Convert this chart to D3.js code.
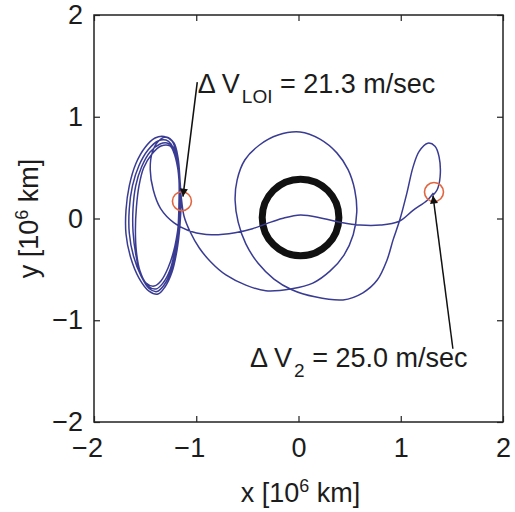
<!DOCTYPE html>
<html>
<head>
<meta charset="utf-8">
<script src="https://cdn.jsdelivr.net/npm/d3@7"></script>
<style>
body { margin: 0; background: #fff; }
text { font-family: "Liberation Sans", Arial, Helvetica, sans-serif; fill: #1c1c1c; }
.axis path { display: none; }
.axis line { stroke: #222; stroke-width: 1.2; }
</style>
</head>
<body>
<div id="chart"></div>
<script>

// ---- data, all in 10^6 km ----
var xTicks = [-2, -1, 0, 1, 2];
var yTicks = [-2, -1, 0, 1, 2];

// wave back from the dV2 point into the halo loops
var wavePart = [
	[1.32, 0.25], [1.26, 0.18], [1.12, 0.08], [0.98, -0.03], [0.80, -0.065], [0.60, -0.065],
	[0.42, -0.04], [0.24, 0.00], [0.02, 0.035], [-0.16, 0.00], [-0.31, -0.05], [-0.45, -0.10],
	[-0.62, -0.14], [-0.85, -0.16], [-1.04, -0.13], [-1.22, -0.04], [-1.35, 0.10], [-1.42, 0.28],
	[-1.45, 0.48], [-1.43, 0.65], [-1.37, 0.76]
];

// halo loops around L1 (4 revs)
var haloPart = [
	[-1.296, 0.801], [-1.218, 0.742], [-1.178, 0.595], [-1.159, 0.378], [-1.149, 0.182], [-1.159, -0.064],
	[-1.188, -0.310], [-1.237, -0.526], [-1.306, -0.673], [-1.374, -0.742], [-1.462, -0.713], [-1.560, -0.585],
	[-1.643, -0.378], [-1.687, -0.152], [-1.687, 0.084], [-1.655, 0.320], [-1.592, 0.536], [-1.501, 0.698],
	[-1.403, 0.791], [-1.315, 0.806],
	[-1.237, 0.762], [-1.188, 0.614], [-1.169, 0.378], [-1.159, 0.162], [-1.169, -0.074], [-1.198, -0.310],
	[-1.247, -0.516], [-1.315, -0.654], [-1.384, -0.718], [-1.462, -0.688], [-1.540, -0.565], [-1.614, -0.369],
	[-1.655, -0.143], [-1.655, 0.093], [-1.624, 0.320], [-1.562, 0.516], [-1.472, 0.673], [-1.374, 0.762],
	[-1.296, 0.771],
	[-1.247, 0.732], [-1.198, 0.595], [-1.169, 0.378], [-1.169, 0.152], [-1.178, -0.084], [-1.208, -0.310],
	[-1.257, -0.506], [-1.325, -0.634], [-1.393, -0.693], [-1.472, -0.664], [-1.545, -0.546], [-1.592, -0.349],
	[-1.618, -0.133], [-1.618, 0.103], [-1.592, 0.320], [-1.535, 0.506], [-1.452, 0.654], [-1.354, 0.732],
	[-1.286, 0.742],
	[-1.227, 0.703], [-1.188, 0.555], [-1.159, 0.359], [-1.149, 0.182], [-1.178, -0.094], [-1.218, -0.310],
	[-1.276, -0.487], [-1.345, -0.614], [-1.413, -0.664], [-1.491, -0.634], [-1.550, -0.516], [-1.585, -0.330],
	[-1.595, -0.113], [-1.585, 0.113], [-1.560, 0.320], [-1.515, 0.497], [-1.433, 0.634], [-1.345, 0.713],
	[-1.257, 0.713], [-1.208, 0.614], [-1.169, 0.418], [-1.149, 0.231]
];

// after LOI: big loop round the earth, out to the dV2 point
var loopPart = [
	[-1.12, 0.025], [-1.06, -0.13], [-0.97, -0.29], [-0.855, -0.43], [-0.71, -0.555], [-0.515, -0.655],
	[-0.32, -0.71], [-0.065, -0.69], [0.14, -0.635], [0.31, -0.515], [0.445, -0.36], [0.535, -0.16],
	[0.57, 0.065], [0.55, 0.28], [0.485, 0.48], [0.375, 0.645], [0.21, 0.78], [0.015, 0.85],
	[-0.20, 0.82], [-0.385, 0.72], [-0.525, 0.575], [-0.60, 0.38], [-0.62, 0.18], [-0.59, -0.035],
	[-0.515, -0.25], [-0.395, -0.44], [-0.24, -0.595], [-0.065, -0.70], [0.16, -0.77], [0.435, -0.80],
	[0.63, -0.73], [0.77, -0.605], [0.865, -0.41], [0.925, -0.21], [0.99, -0.015], [1.06, 0.25],
	[1.12, 0.505], [1.18, 0.66], [1.265, 0.74], [1.335, 0.71], [1.375, 0.605], [1.385, 0.41],
	[1.355, 0.28], [1.315, 0.23]
];

var moonOrbit = [{ cx: 0.02, cy: 0.01, r: 0.375 }];

var burns = [
	{ name: "LOI", x: -1.14, y: 0.17, textX: -0.985, textY: 1.233, arrowFrom: [-0.99, 1.34], value: "21.3" },
	{ name: "2", x: 1.325, y: 0.26, textX: -0.474, textY: -1.459, arrowFrom: [1.51, -1.28], value: "25.0" }
];
var arrowTips = [[-1.13, 0.215], [1.315, 0.225]];

// ---- layout ----
var W = 515, H = 512;
var box = { left: 94, right: 503, top: 15, bottom: 422 };
var fs = 27;

var svg = d3.select("#chart").append("svg").attr("width", W).attr("height", H);

var x = d3.scaleLinear().domain([-2, 2]).range([box.left, box.right]);
var y = d3.scaleLinear().domain([-2, 2]).range([box.bottom, box.top]);

var defs = svg.append("defs");
defs.append("marker")
	.attr("id", "head")
	.attr("viewBox", "0 0 10 10")
	.attr("refX", 10).attr("refY", 5)
	.attr("markerWidth", 12).attr("markerHeight", 8)
	.attr("markerUnits", "userSpaceOnUse")
	.attr("orient", "auto")
	.append("path").attr("d", "M0,0 L10,5 L0,10 Z").attr("fill", "#111");

// moon orbit
svg.selectAll("circle.moon").data(moonOrbit).enter().append("circle")
	.attr("class", "moon")
	.attr("cx", function(d) { return x(d.cx); })
	.attr("cy", function(d) { return y(d.cy); })
	.attr("r", function(d) { return x(d.r) - x(0); })
	.attr("fill", "none").attr("stroke", "#111").attr("stroke-width", 7);

var line = d3.line()
	.x(function(d) { return x(d[0]); })
	.y(function(d) { return y(d[1]); })
	.curve(d3.curveCatmullRom.alpha(0.5));

var path = wavePart.concat(haloPart, loopPart);
svg.append("path")
	.datum(path)
	.attr("d", line)
	.attr("fill", "none")
	.attr("stroke", "#393c92")
	.attr("stroke-width", 1.5);

// burn markers
svg.selectAll("circle.burn").data(burns).enter().append("circle")
	.attr("class", "burn")
	.attr("cx", function(d) { return x(d.x); })
	.attr("cy", function(d) { return y(d.y); })
	.attr("r", 9.5)
	.attr("fill", "none").attr("stroke", "#e2653f").attr("stroke-width", 1.6);

// arrows
svg.selectAll("line.arrow").data(burns).enter().append("line")
	.attr("class", "arrow")
	.attr("x1", function(d) { return x(d.arrowFrom[0]); })
	.attr("y1", function(d) { return y(d.arrowFrom[1]); })
	.attr("x2", function(d, i) { return x(arrowTips[i][0]); })
	.attr("y2", function(d, i) { return y(arrowTips[i][1]); })
	.attr("stroke", "#111").attr("stroke-width", 1.5)
	.attr("marker-end", "url(#head)");

// labels: "Δ V_sub = value m/sec"
var lbl = svg.selectAll("text.burn").data(burns).enter().append("text")
	.attr("class", "burn")
	.attr("x", function(d) { return x(d.textX); })
	.attr("y", function(d) { return y(d.textY); })
	.style("font-size", fs + "px");
lbl.append("tspan").text("\u0394 V");
lbl.append("tspan").attr("dx", 2).attr("dy", 10).style("font-size", "19px").text(function(d) { return d.name; });
lbl.append("tspan").attr("dy", -10).text(function(d) { return " = " + d.value + " m/sec"; });

// frame
svg.append("rect")
	.attr("x", box.left).attr("y", box.top)
	.attr("width", box.right - box.left).attr("height", box.bottom - box.top)
	.attr("fill", "none").attr("stroke", "#222").attr("stroke-width", 1.5);

// axes, ticks inward like matlab
var fmt = d3.format("d");
var gx = svg.append("g").attr("class", "axis")
	.attr("transform", "translate(0," + box.bottom + ")")
	.call(d3.axisBottom(x).tickValues(xTicks).tickFormat(fmt).tickSizeInner(-6).tickSizeOuter(0).tickPadding(16));
gx.selectAll("text").style("font-size", fs + "px")
	.attr("dx", function(d) { return d < 0 ? -7 : 0; });

svg.append("g").attr("class", "axis")
	.attr("transform", "translate(0," + box.top + ")")
	.call(d3.axisTop(x).tickValues(xTicks).tickSizeInner(-6).tickSizeOuter(0).tickFormat(""));

var gy = svg.append("g").attr("class", "axis")
	.attr("transform", "translate(" + box.left + ",0)")
	.call(d3.axisLeft(y).tickValues(yTicks).tickFormat(fmt).tickSizeInner(-6).tickSizeOuter(0).tickPadding(11));
gy.selectAll("text").style("font-size", fs + "px");

svg.append("g").attr("class", "axis")
	.attr("transform", "translate(" + box.right + ",0)")
	.call(d3.axisRight(y).tickValues(yTicks).tickSizeInner(-6).tickSizeOuter(0).tickFormat(""));

svg.selectAll(".axis text").attr("fill", "#1c1c1c").style("font-family", "'Liberation Sans', Arial, sans-serif");

// axis titles
var xt = svg.append("text")
	.attr("x", (box.left + box.right) / 2 + 2).attr("y", 502)
	.attr("text-anchor", "middle").style("font-size", fs + "px");
xt.append("tspan").text("x [10");
xt.append("tspan").attr("dy", -10).style("font-size", "18px").text("6");
xt.append("tspan").attr("dy", 10).text(" km]");

var yt = svg.append("text")
	.attr("transform", "translate(38," + ((box.top + box.bottom) / 2) + ") rotate(-90)")
	.attr("text-anchor", "middle").style("font-size", fs + "px");
yt.append("tspan").text("y [10");
yt.append("tspan").attr("dy", -10).style("font-size", "18px").text("6");
yt.append("tspan").attr("dy", 10).text(" km]");

</script>
</body>
</html>
